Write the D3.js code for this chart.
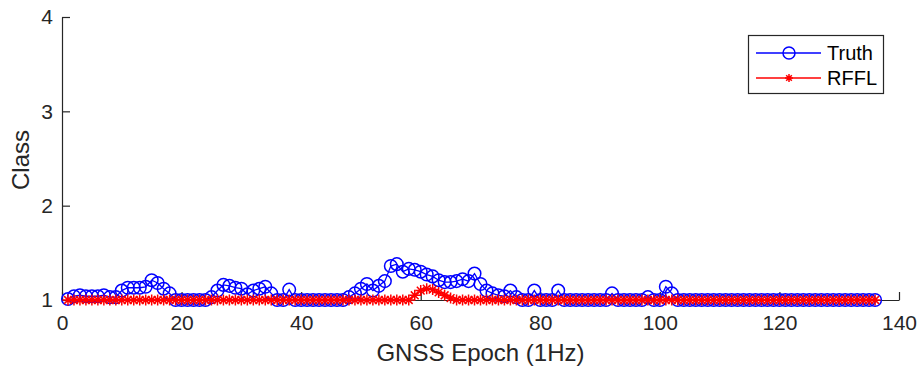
<!DOCTYPE html>
<html>
<head>
<meta charset="utf-8">
<script src="https://cdn.jsdelivr.net/npm/d3@7"></script>
<style>
  body { margin: 0; background: #fff; }
  svg { font-family: "Liberation Sans", Arial, sans-serif; }
</style>
</head>
<body>
<div class="chart"></div>
<script>
// epochs 1..136
var epochs = d3.range(1, 137);

// Truth class per epoch
var truth = [
  1.01, 1.04, 1.05, 1.04, 1.04, 1.04, 1.05, 1.03, 1.03, 1.10,
  1.13, 1.13, 1.13, 1.14, 1.21, 1.18, 1.12, 1.07, 1.00, 1.00,
  1.00, 1.00, 1.00, 1.00, 1.03, 1.10, 1.16, 1.15, 1.13, 1.12,
  1.06, 1.10, 1.12, 1.14, 1.07, 1.00, 1.00, 1.11, 1.00, 1.00,
  1.00, 1.00, 1.00, 1.00, 1.00, 1.00, 1.00, 1.03, 1.07, 1.12,
  1.17, 1.10, 1.15, 1.20, 1.36, 1.38, 1.30, 1.33, 1.32, 1.30,
  1.27, 1.25, 1.21, 1.19, 1.19, 1.20, 1.22, 1.20, 1.28, 1.17,
  1.10, 1.07, 1.05, 1.04, 1.10, 1.03, 1.00, 1.00, 1.10, 1.00,
  1.00, 1.00, 1.10, 1.00, 1.00, 1.00, 1.00, 1.00, 1.00, 1.00,
  1.00, 1.07, 1.00, 1.00, 1.00, 1.00, 1.00, 1.03, 1.00, 1.00,
  1.14, 1.07, 1.00, 1.00, 1.00, 1.00, 1.00, 1.00, 1.00, 1.00,
  1.00, 1.00, 1.00, 1.00, 1.00, 1.00, 1.00, 1.00, 1.00, 1.00,
  1.00, 1.00, 1.00, 1.00, 1.00, 1.00, 1.00, 1.00, 1.00, 1.00,
  1.00, 1.00, 1.00, 1.00, 1.00, 1.00
];

// RFFL prediction per epoch
var rffl = [
  1, 1, 1, 1, 1, 1, 1, 1, 1, 1,
  1, 1, 1, 1, 1, 1, 1, 1, 1, 1,
  1, 1, 1, 1, 1, 1, 1, 1, 1, 1,
  1, 1, 1, 1, 1, 1, 1, 1, 1, 1,
  1, 1, 1, 1, 1, 1, 1, 1, 1, 1,
  1, 1, 1, 1, 1, 1, 1, 1.00, 1.05, 1.10,
  1.12, 1.11, 1.08, 1.05, 1.02, 1.00, 1, 1, 1, 1,
  1, 1, 1, 1, 1, 1, 1, 1, 1, 1,
  1, 1, 1, 1, 1, 1, 1, 1, 1, 1,
  1, 1, 1, 1, 1, 1, 1, 1, 1, 1,
  1, 1, 1, 1, 1, 1, 1, 1, 1, 1,
  1, 1, 1, 1, 1, 1, 1, 1, 1, 1,
  1, 1, 1, 1, 1, 1, 1, 1, 1, 1,
  1, 1, 1, 1, 1, 1
];

var xTicks = [0, 20, 40, 60, 80, 100, 120, 140];
var yTicks = [1, 2, 3, 4];
var seriesNames = ["Truth", "RFFL"];

var width = 917, height = 369;
var axisColor = "#262626";

var svg = d3.select(".chart")
  .append("svg")
  .attr("width", width)
  .attr("height", height);

var x = d3.scaleLinear().domain([0, 140]).range([62, 899]);
var y = d3.scaleLinear().domain([1, 4]).range([300, 17]);

// axes (MATLAB style, ticks pointing inward, box off)
var xAxis = svg.append("g")
  .attr("transform", "translate(0," + y(1) + ")")
  .call(d3.axisBottom(x).tickValues(xTicks).tickFormat(d3.format("d"))
    .tickSizeInner(-8).tickSizeOuter(0).tickPadding(15));

var yAxis = svg.append("g")
  .attr("transform", "translate(" + x(0) + ",0)")
  .call(d3.axisLeft(y).tickValues(yTicks).tickFormat(d3.format("d"))
    .tickSizeInner(-8).tickSizeOuter(0).tickPadding(9));

[xAxis, yAxis].forEach(function (g) {
  g.select(".domain").attr("stroke", axisColor).attr("stroke-width", 1.2);
  g.selectAll(".tick line").attr("stroke", axisColor).attr("stroke-width", 1.2);
  g.selectAll(".tick text").attr("fill", axisColor).style("font-size", "21px");
});

// axis labels
svg.append("text")
  .attr("x", (x(0) + x(140)) / 2)
  .attr("y", 361)
  .attr("text-anchor", "middle")
  .attr("fill", axisColor)
  .style("font-size", "24px")
  .text("GNSS Epoch (1Hz)");

svg.append("text")
  .attr("transform", "translate(29," + 160 + ") rotate(-90)")
  .attr("text-anchor", "middle")
  .attr("fill", axisColor)
  .style("font-size", "24px")
  .text("Class");

var truthData = epochs.map(function (e, i) { return { x: e, y: truth[i] }; });
var rfflData = epochs.map(function (e, i) { return { x: e, y: rffl[i] }; });

var line = d3.line()
  .x(function (d) { return x(d.x); })
  .y(function (d) { return y(d.y); });

// asterisk marker path, half-size s
function star(s) {
  var d = s * 0.707;
  return "M" + (-s) + ",0L" + s + ",0" +
    "M0," + (-s) + "L0," + s +
    "M" + (-d) + "," + (-d) + "L" + d + "," + d +
    "M" + (-d) + "," + d + "L" + d + "," + (-d);
}

// Truth
svg.append("path")
  .datum(truthData)
  .attr("d", line)
  .attr("fill", "none")
  .attr("stroke", "#0000ff")
  .attr("stroke-width", 1.3);

svg.append("g")
  .selectAll("circle")
  .data(truthData)
  .enter()
  .append("circle")
  .attr("cx", function (d) { return x(d.x); })
  .attr("cy", function (d) { return y(d.y); })
  .attr("r", 6.3)
  .attr("fill", "none")
  .attr("stroke", "#0000ff")
  .attr("stroke-width", 1.5);

// RFFL
svg.append("path")
  .datum(rfflData)
  .attr("d", line)
  .attr("fill", "none")
  .attr("stroke", "#ff0000")
  .attr("stroke-width", 1.3);

svg.append("g")
  .selectAll("path")
  .data(rfflData)
  .enter()
  .append("path")
  .attr("transform", function (d) { return "translate(" + x(d.x) + "," + y(d.y) + ")"; })
  .attr("d", star(5.5))
  .attr("fill", "none")
  .attr("stroke", "#ff0000")
  .attr("stroke-width", 1.5);

// legend
var legend = svg.append("g");
legend.append("rect")
  .attr("x", 748.5).attr("y", 35.5)
  .attr("width", 135).attr("height", 58)
  .attr("fill", "#fff")
  .attr("stroke", axisColor)
  .attr("stroke-width", 1.2);

var legendY = [53, 78];
var colors = ["#0000ff", "#ff0000"];
seriesNames.forEach(function (name, i) {
  legend.append("line")
    .attr("x1", 756).attr("x2", 821)
    .attr("y1", legendY[i]).attr("y2", legendY[i])
    .attr("stroke", colors[i])
    .attr("stroke-width", 1.3);
  if (i === 0) {
    legend.append("circle")
      .attr("cx", 789).attr("cy", legendY[i]).attr("r", 6)
      .attr("fill", "none").attr("stroke", colors[i]).attr("stroke-width", 1.5);
  } else {
    legend.append("path")
      .attr("transform", "translate(789," + legendY[i] + ")")
      .attr("d", star(4))
      .attr("fill", "none").attr("stroke", colors[i]).attr("stroke-width", 1.5);
  }
  legend.append("text")
    .attr("x", 827).attr("y", legendY[i])
    .attr("dy", "0.35em")
    .attr("fill", "#000")
    .style("font-size", "20px")
    .text(name);
});
</script>
</body>
</html>
